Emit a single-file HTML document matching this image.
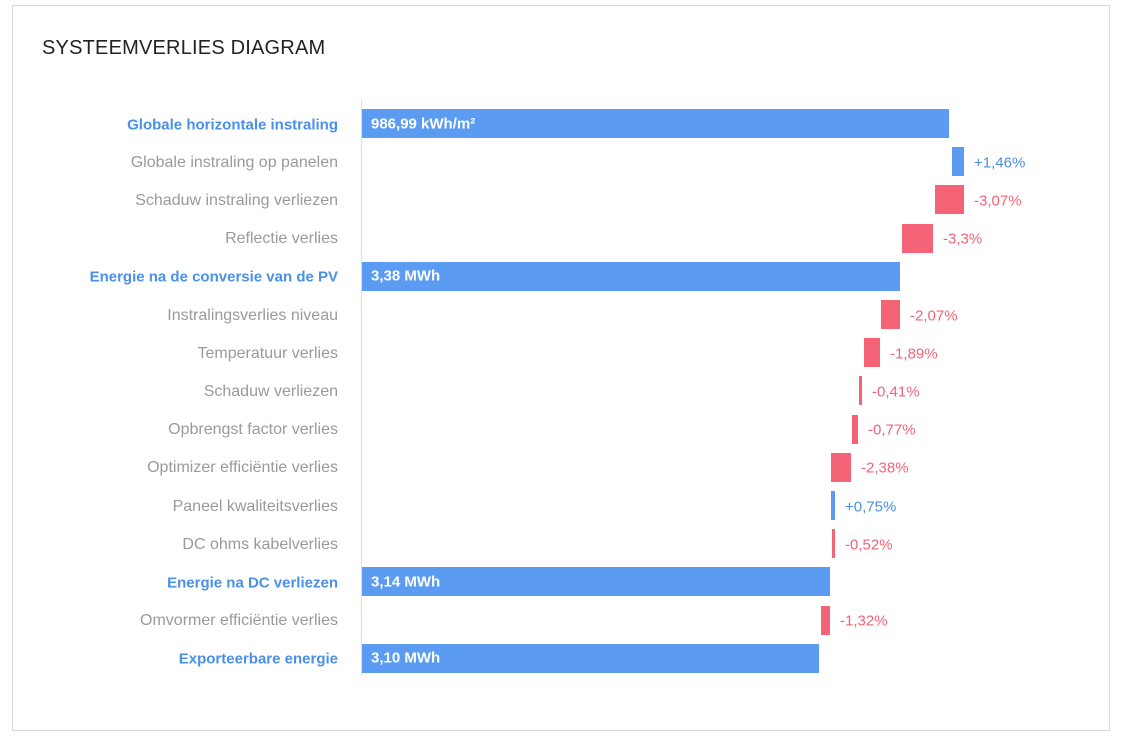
<!DOCTYPE html>
<html><head><style>
body{margin:0;background:#fff;width:1124px;height:740px;overflow:hidden;font-family:"Liberation Sans",sans-serif}
.card{position:absolute;left:12px;top:5px;width:1098px;height:726px;border:1px solid #d6d6d6;box-sizing:border-box}
.t{position:absolute;left:42px;top:37px;font-size:20px;color:#222;letter-spacing:0.2px}
.lb{position:absolute;right:786px;font-size:16px;color:#9a9a9a;white-space:nowrap;transform:translateY(-50%)}
.lb.b{color:#4a90e8;font-weight:bold;font-size:15px}
.bar{position:absolute;height:29px}
.bl{background:#5b9cf2}.rd{background:#f56376}
.v{position:absolute;font-size:15px;transform:translateY(-50%);white-space:nowrap}
.in{position:absolute;left:9px;top:50%;transform:translateY(-50%);color:#fff;font-size:15px;font-weight:bold}
</style></head><body>
<div class="card"></div>
<div class="t">SYSTEEMVERLIES DIAGRAM</div>
<div style="position:absolute;left:361px;top:100px;width:1px;height:576px;background:#cfe0f5"></div>
<div id="c"></div>
<script>
var rows=[
["Globale horizontale instraling",1,362,949,"986,99 kWh/m²"],
["Globale instraling op panelen",0,952,964,"+1,46%","b"],
["Schaduw instraling verliezen",0,935,964,"-3,07%","r"],
["Reflectie verlies",0,902,933,"-3,3%","r"],
["Energie na de conversie van de PV",1,362,900,"3,38 MWh"],
["Instralingsverlies niveau",0,881,900,"-2,07%","r"],
["Temperatuur verlies",0,864,880,"-1,89%","r"],
["Schaduw verliezen",0,859,862,"-0,41%","r"],
["Opbrengst factor verlies",0,852,858,"-0,77%","r"],
["Optimizer efficiëntie verlies",0,831,851,"-2,38%","r"],
["Paneel kwaliteitsverlies",0,831,835,"+0,75%","b"],
["DC ohms kabelverlies",0,832,835,"-0,52%","r"],
["Energie na DC verliezen",1,362,830,"3,14 MWh"],
["Omvormer efficiëntie verlies",0,821,830,"-1,32%","r"],
["Exporteerbare energie",1,362,819,"3,10 MWh"]];
var h="";
rows.forEach(function(r,i){var y=124.5+i*38.2;
h+='<div class="lb'+(r[1]?' b':'')+'" style="top:'+y+'px">'+r[0]+'</div>';
var cls=r[1]?'bl':(r[5]=='b'?'bl':'rd');
h+='<div class="bar '+cls+'" style="left:'+r[2]+'px;width:'+(r[3]-r[2])+'px;top:'+(y-15.5)+'px">'+(r[1]?'<span class="in">'+r[4]+'</span>':'')+'</div>';
if(!r[1])h+='<div class="v" style="left:'+(r[3]+10)+'px;top:'+y+'px;color:'+(r[5]=='b'?'#4a90e8':'#f56376')+'">'+r[4]+'</div>';
});
document.getElementById('c').innerHTML=h;
</script>
</body></html>
